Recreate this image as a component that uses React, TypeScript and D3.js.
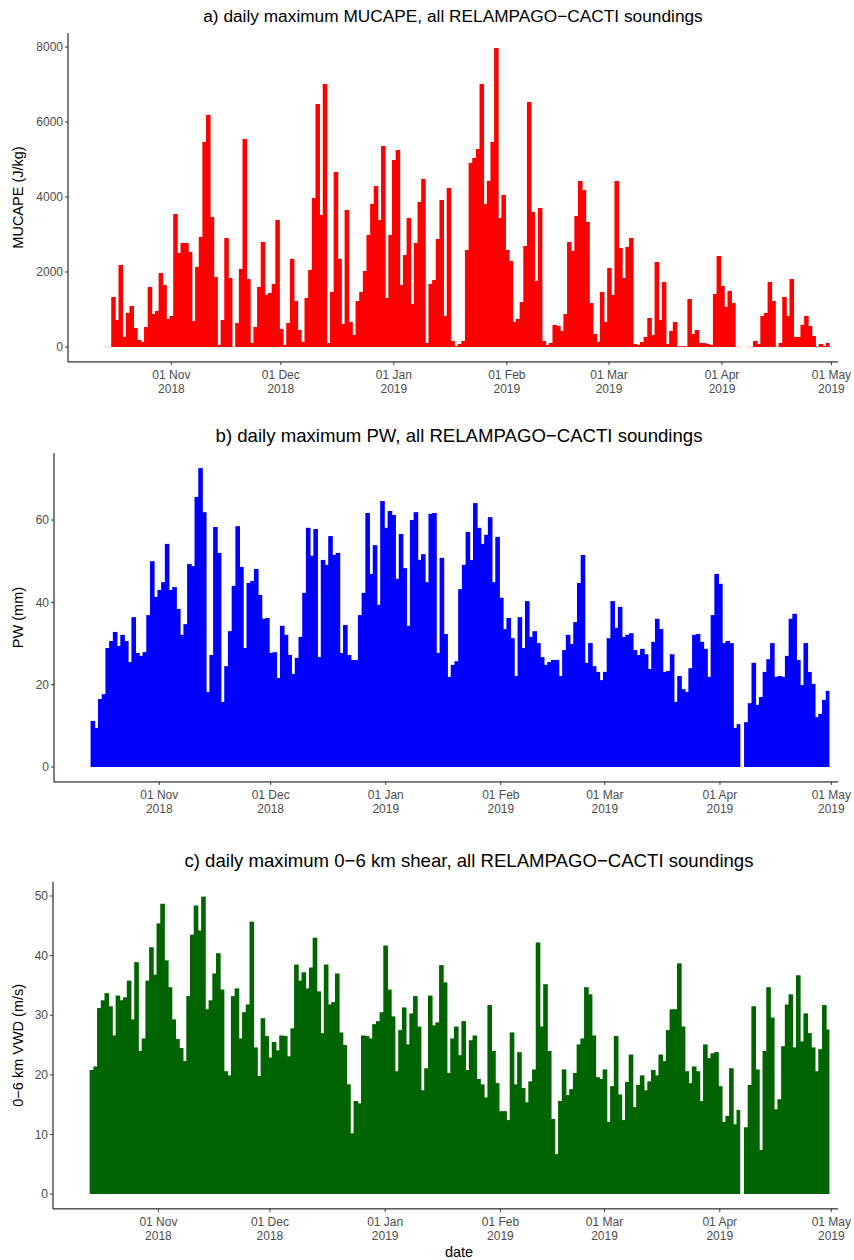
import React from 'react';
import * as d3 from 'd3';

// daily maxima, 14 Oct 2018 .. 30 Apr 2019 (NaN = no soundings that day)
const mucape = [
  0, 0, 1333, 720, 2187, 267, 907, 1093, 507, 187, 133, 533, 1600, 880, 960, 1973, 1653, 747,
  827, 3547, 2507, 2773, 2773, 2533, 693, 2133, 2933, 5467, 6187, 3467, 1867, 53, 720, 2907, 1840, 0,
  640, 2080, 5547, 1813, 107, 533, 1600, 2800, 1387, 1440, 1680, 3387, 480, 53, 640,
  2347, 1227, 453, 133, 1307, 2053, 3973, 6480, 3520, 7013, 107, 1467, 4667, 2347, 613, 3653, 667,
  320, 1227, 1467, 2027, 2987, 3813, 4293, 3387, 5360, 1307, 2987, 4987, 5253, 1653, 2453, 3440,
  1147, 2773, 3867, 4480, 107, 1680, 1787, 2880, 3920, 827, 4240, 160, 27, 80, 160, 2587, 4907, 5040,
  5280, 7013, 3813, 4427, 5467, 7973, 3440, 4053, 2587, 2293, 667, 747, 1200, 2693, 6533, 3600, 1760,
  3707, 160, 53, 107, 587, 560, 427, 880, 2800, 2560, 3493, 4427, 4187, 3333, 1173, 347, 133, 1467,
  667, 2107, 1387, 4427, 2640, 1840, 2667, 2907, 80, 53, 133, 267, 773, 320, 2267, 720,
  1733, 80, 427, 667, 20, 20, 20, 1280, 347, 453, 107, 107, 80, 53, 1413, 2427, 1627, 1067, 1493,
  1173, 0, 0, NaN, 0, 0, 160, 80, 827, 907, 1733, 1227, 0, 107, 1333, 827, 1813, 267, 267, 587, 827,
  560, 293, 10, 80, 27, 107,
];

const pw = [
  11.2, 9.5, 16.5, 17.7, 28.9, 30.6, 32.8, 29.4, 32.1, 30.6, 25.5, 36.4, 27.7, 27.0, 27.9, 36.9, 50.0,
  41.3, 43.0, 44.9, 54.2, 43.0, 43.7, 38.4, 32.1, 34.7, 49.3, 48.8, 65.6, 72.6, 61.9, 18.2, 27.2, 58.3,
  52.0, 15.8, 24.5, 33.0, 44.0, 58.5, 48.6, 28.9, 44.7, 45.2, 48.1, 41.8, 36.0, 36.2, 27.7, 27.9, 21.6,
  34.3, 32.1, 27.2, 22.6, 26.5, 31.6, 42.3, 58.1, 51.3, 57.8, 26.7, 50.3, 49.1, 56.1, 51.5, 52.0, 27.7,
  34.5, 27.2, 26.0, 26.0, 36.9, 42.3, 61.7, 46.9, 53.9, 39.4, 64.6, 58.1, 62.2, 61.2, 45.7, 56.6, 48.3,
  34.3, 60.0, 61.9, 50.3, 51.7, 44.9, 61.5, 61.7, 27.7, 50.8, 32.3, 21.9, 24.8, 25.7, 43.2, 49.1,
  57.1, 50.3, 64.1, 58.1, 54.2, 56.4, 60.7, 44.9, 55.9, 41.1, 33.5, 36.2, 31.3, 22.1, 36.4, 28.9, 40.3,
  31.6, 33.0, 30.1, 26.7, 24.8, 25.5, 26.0, 26.0, 22.1, 28.4, 32.1, 29.9, 35.2, 44.7, 51.5, 25.3, 30.1,
  24.5, 23.1, 21.1, 23.1, 31.3, 40.3, 33.8, 38.9, 31.6, 32.1, 32.5, 28.4, 27.2, 28.7, 27.4, 23.8,
  30.4, 36.0, 33.5, 23.1, 23.3, 27.4, 15.8, 22.1, 18.9, 18.2, 24.0, 32.1, 32.3, 30.4, 28.7, 21.9, 36.9,
  46.9, 44.5, 30.1, 30.6, 30.1, 9.5, 10.4, NaN, 10.9, 15.5, 25.3, 15.1, 17.0, 23.1, 26.2, 30.1, 21.9,
  22.1, 21.9, 27.0, 36.0, 37.2, 26.0, 19.9, 30.1, 23.1, 20.2, 12.1, 12.9, 16.3, 18.5,
];

const shear = [
  20.8, 21.4, 31.2, 32.5, 33.7, 31.5, 26.6, 33.3, 32.5, 33.0, 35.8, 29.3, 38.9, 24.0, 26.1, 35.8, 41.4,
  36.8, 45.4, 48.7, 39.2, 34.7, 29.3, 26.0, 24.5, 22.3, 33.2, 43.5, 48.4, 44.2, 49.9, 31.0, 32.5, 37.0,
  40.4, 34.3, 20.6, 19.9, 33.2, 34.5, 26.1, 30.5, 31.8, 45.7, 24.6, 19.8, 29.5, 26.5, 22.9, 25.5, 24.1,
  26.6, 26.5, 23.1, 27.8, 38.5, 35.8, 37.2, 34.5, 38.0, 43.0, 34.0, 27.0, 38.5, 31.8, 32.2, 37.0, 27.1,
  25.0, 18.4, 10.2, 15.6, 15.2, 26.6, 26.5, 26.1, 28.5, 29.0, 30.5, 41.7, 34.3, 29.8, 20.6, 27.5, 31.3,
  25.1, 30.3, 33.2, 28.1, 17.4, 21.1, 33.3, 28.3, 28.8, 38.4, 35.5, 20.3, 26.1, 28.1, 23.3, 29.0,
  20.8, 25.8, 26.6, 19.3, 18.4, 16.2, 31.7, 24.0, 18.6, 13.9, 13.9, 12.4, 27.1, 18.4, 23.8, 17.8, 15.4,
  18.9, 20.9, 42.2, 28.1, 35.2, 24.0, 12.6, 6.7, 15.6, 20.9, 16.6, 17.6, 20.3, 25.1, 26.1, 34.7, 33.5,
  26.6, 19.6, 19.3, 20.9, 12.1, 18.1, 26.5, 16.7, 12.4, 18.8, 23.4, 14.6, 18.3, 19.9, 17.4, 18.9,
  20.8, 19.9, 23.4, 22.3, 27.5, 31.0, 31.0, 38.7, 28.1, 20.6, 18.6, 21.4, 20.6, 15.6, 25.1, 22.8, 23.6,
  23.8, 18.1, 12.1, 13.1, 21.1, 11.7, 14.1, NaN, 11.2, 18.3, 31.5, 20.9, 7.4, 24.0, 34.7, 29.6, 14.2,
  15.9, 24.8, 31.8, 33.5, 24.6, 36.7, 25.6, 30.3, 27.0, 24.6, 20.6, 24.3, 31.7, 27.6,
];

const monthTicks = ['2018-11-01', '2018-12-01', '2019-01-01', '2019-02-01', '2019-03-01', '2019-04-01', '2019-05-01'];
const capeTicks = [0, 2000, 4000, 6000, 8000];
const pwTicks = [0, 20, 40, 60];
const shearTicks = [0, 10, 20, 30, 40, 50];

const DAY = 864e5;
const firstDay = Date.UTC(2018, 9, 14);
const font = '"Liberation Sans", Arial, Helvetica, sans-serif';

const panels = [
  {
    key: 'a', values: mucape, color: '#FF0000', ticks: capeTicks,
    title: 'a) daily maximum MUCAPE, all RELAMPAGO\u2212CACTI soundings', ylab: 'MUCAPE (J/kg)',
    left: 68, y0: 347, yTop: 47, yTopVal: 8000, titleX: 453, titleY: 22, titleSize: 17.3,
  },
  {
    key: 'b', values: pw, color: '#0000FF', ticks: pwTicks,
    title: 'b) daily maximum PW, all RELAMPAGO\u2212CACTI soundings', ylab: 'PW (mm)',
    left: 54, y0: 767, yTop: 520, yTopVal: 60, titleX: 459, titleY: 442, titleSize: 18.6,
  },
  {
    key: 'c', values: shear, color: '#006400', ticks: shearTicks,
    title: 'c) daily maximum 0\u22126 km shear, all RELAMPAGO\u2212CACTI soundings', ylab: '0\u22126 km VWD (m/s)',
    left: 53, y0: 1194, yTop: 896, yTopVal: 50, titleX: 469, titleY: 867, titleSize: 18.6,
  },
];

const right = 838;

function Panel({ p }: { p: (typeof panels)[number] }) {
  const x = d3
    .scaleUtc()
    .domain([new Date(firstDay - 10.35 * DAY), new Date(firstDay + 200.8 * DAY)])
    .range([p.left, right]);
  const y = d3.scaleLinear().domain([0, p.yTopVal]).range([p.y0, p.yTop]);
  const vmax = d3.max(p.values.filter(v => !isNaN(v))) as number;
  const bottom = y(-0.05 * vmax);
  const top = y(1.05 * vmax);
  const fmtDay = d3.utcFormat('%d %b');
  const fmtYear = d3.utcFormat('%Y');

  return (
    <g>
      <text x={p.titleX} y={p.titleY} textAnchor="middle" fontSize={p.titleSize} fill="#000">
        {p.title}
      </text>
      {p.values.map((v, i) => {
        if (isNaN(v)) return null;
        const t = firstDay + i * DAY;
        const x0 = x(new Date(t - DAY / 2));
        const x1 = x(new Date(t + DAY / 2));
        const h = p.y0 - y(v);
        if (h < 0.6) {
          return (
            <rect key={i} x={x0} y={p.y0 - 0.5} width={x1 - x0} height={1} fill={p.color} opacity={0.25 + h} />
          );
        }
        // next day's bar overlaps the small overshoot, so no seams show
        const nextOk = i + 1 < p.values.length && !isNaN(p.values[i + 1]);
        return (
          <rect key={i} x={x0} y={y(v)} width={x1 - x0 + (nextOk ? 0.9 : 0)} height={h} fill={p.color} />
        );
      })}
      <line x1={p.left} x2={p.left} y1={top} y2={bottom} stroke="#000" strokeWidth={1} />
      <line x1={p.left} x2={right} y1={bottom} y2={bottom} stroke="#000" strokeWidth={1} />
      {p.ticks.map(tv => (
        <g key={tv}>
          <line x1={p.left - 3} x2={p.left} y1={y(tv)} y2={y(tv)} stroke="#333" />
          <text x={p.left - 5} y={y(tv)} dy="0.35em" textAnchor="end" fontSize={12} fill="#4D4D4D">
            {tv}
          </text>
        </g>
      ))}
      {monthTicks.map(s => {
        const d = new Date(s + 'T00:00:00Z');
        const xx = x(d);
        return (
          <g key={s}>
            <line x1={xx} x2={xx} y1={bottom} y2={bottom + 3} stroke="#333" />
            <text x={xx} y={bottom + 17.5} textAnchor="middle" fontSize={12} fill="#4D4D4D">
              {fmtDay(d)}
            </text>
            <text x={xx} y={bottom + 31.5} textAnchor="middle" fontSize={12} fill="#4D4D4D">
              {fmtYear(d)}
            </text>
          </g>
        );
      })}
      <text
        transform={`translate(${23},${(top + bottom) / 2}) rotate(-90)`}
        textAnchor="middle"
        fontSize={14.5}
        fill="#000"
      >
        {p.ylab}
      </text>
      {p.key === 'c' && (
        <text x={459} y={bottom + 48} textAnchor="middle" fontSize={14.5} fill="#000">
          date
        </text>
      )}
    </g>
  );
}

export default function App() {
  return (
    <svg
      width={854}
      height={1260}
      style={{ position: 'absolute', left: 0, top: 0, background: '#fff' }}
      fontFamily={font}
    >
      {panels.map(p => (
        <Panel key={p.key} p={p} />
      ))}
    </svg>
  );
}
